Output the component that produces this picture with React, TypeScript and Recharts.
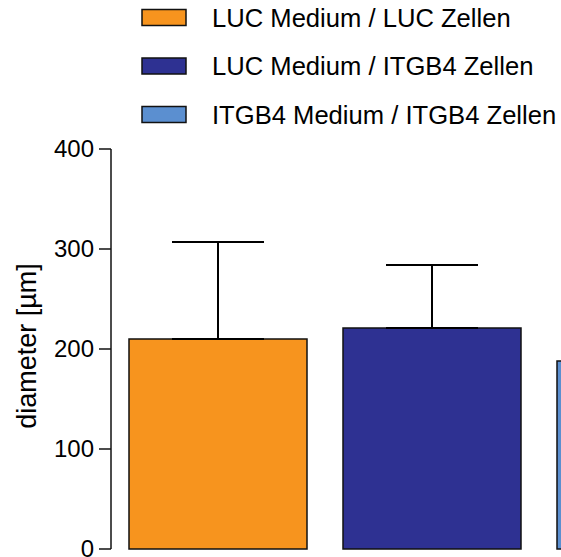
import React from "react";
import { BarChart, Bar, XAxis, YAxis, Cell, ErrorBar, Legend } from "recharts";

const groups = ["LUC Medium / LUC Zellen", "LUC Medium / ITGB4 Zellen", "ITGB4 Medium / ITGB4 Zellen"];
const diameters = [210, 221, 188];
const sdUpper = [97, 63, 0];
const colors = ["#F7941E", "#2E3192", "#5B8FD0"];
const yTicks = [0, 100, 200, 300, 400];

const FONT = "'Liberation Sans', Arial, sans-serif";

const chartData = groups.map((name, i) => ({
    name,
    diameter: diameters[i],
    err: [0, sdUpper[i]],
}));

function LegendBox() {
    return (
        <svg width={561} height={135} style={{ display: "block" }}>
            {groups.map((g, i) => {
                const cy = 17.5 + i * 48.5;
                return (
                    <g key={g}>
                        <rect x={142} y={cy - 8} width={44} height={16} fill={colors[i]} stroke="#111" strokeWidth={1.5} />
                        <text x={212} y={cy} dominantBaseline="central" fontFamily={FONT} fontSize={25.6} fill="#000">
                            {g}
                        </text>
                    </g>
                );
            })}
        </svg>
    );
}

function YLabel() {
    return (
        <text
            x={27}
            y={346}
            transform="rotate(-90 27 346)"
            textAnchor="middle"
            dominantBaseline="central"
            fontFamily={FONT}
            fontSize={27}
            fill="#000"
        >
            diameter [µm]
        </text>
    );
}

export default function App() {
    return (
        <div style={{ position: "fixed", left: 0, top: 0, width: 561, height: 557, overflow: "hidden", background: "#fff" }}>
            <BarChart
                width={760}
                height={557}
                data={chartData}
                margin={{ top: 149, right: 7, bottom: 8, left: 0 }}
                barCategoryGap={18}
            >
                <XAxis dataKey="name" tick={false} tickLine={false} height={0} axisLine={{ stroke: "#111", strokeWidth: 1.5 }} />
                <YAxis
                    width={111}
                    domain={[0, 400]}
                    ticks={yTicks}
                    interval={0}
                    tickSize={12}
                    tickMargin={5}
                    axisLine={{ stroke: "#111", strokeWidth: 1.5 }}
                    tickLine={{ stroke: "#111", strokeWidth: 1.5 }}
                    tick={{ fill: "#000", fontSize: 24, fontFamily: FONT, dy: -1 }}
                    label={<YLabel />}
                />
                <Legend
                    layout="vertical"
                    align="center"
                    verticalAlign="middle"
                    wrapperStyle={{ top: 0, left: 0 }}
                    content={() => <LegendBox />}
                />
                <Bar dataKey="diameter" stroke="#111" strokeWidth={1.5} isAnimationActive={false}>
                    {chartData.map((d, i) => (
                        <Cell key={d.name} fill={colors[i]} />
                    ))}
                    <ErrorBar dataKey="err" width={46} stroke="#000" strokeWidth={2} direction="y" />
                </Bar>
            </BarChart>
        </div>
    );
}
